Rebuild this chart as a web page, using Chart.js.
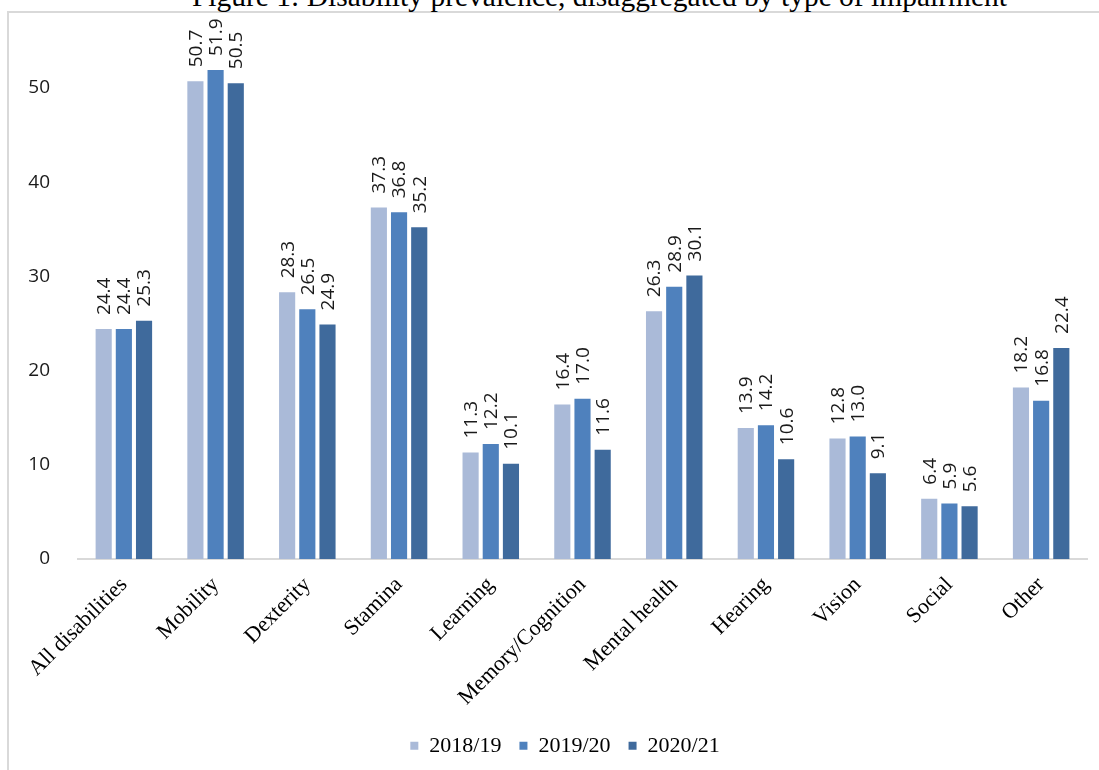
<!DOCTYPE html>
<html>
<head>
<meta charset="utf-8">
<script src="https://cdn.jsdelivr.net/npm/chart.js@4"></script>
<style>
    html, body { margin: 0; padding: 0; background: #fff; overflow: hidden; }
    body { width: 1099px; height: 770px; position: relative; }
    #frame {
        position: absolute; left: 7px; top: 11px; width: 1200px; height: 900px;
        border: 2px solid #d9d9d9; box-sizing: border-box;
    }
    #title {
        position: absolute; left: 50px; top: -18px; width: 1099px; text-align: center;
        font: 29.5px "Liberation Serif", serif; line-height: 29px; color: #000; white-space: nowrap;
    }
    #wrap { position: absolute; left: 0; top: 0; width: 1099px; height: 770px; }
</style>
</head>
<body>
<div id="frame"></div>
<div id="title">Figure 1: Disability prevalence, disaggregated by type of impairment</div>
<div id="wrap"><canvas id="chart"></canvas></div>
<script>
    // Chart data
    const categories = ['All disabilities', 'Mobility', 'Dexterity', 'Stamina', 'Learning',
        'Memory/Cognition', 'Mental health', 'Hearing', 'Vision', 'Social', 'Other'];
    const seriesNames = ['2018/19', '2019/20', '2020/21'];
    const values1819 = [24.4, 50.7, 28.3, 37.3, 11.3, 16.4, 26.3, 13.9, 12.8, 6.4, 18.2];
    const values1920 = [24.4, 51.9, 26.5, 36.8, 12.2, 17.0, 28.9, 14.2, 13.0, 5.9, 16.8];
    const values2021 = [25.3, 50.5, 24.9, 35.2, 10.1, 11.6, 30.1, 10.6, 9.1, 5.6, 22.4];
    const yTicks = [0, 10, 20, 30, 40, 50];

    const colors = ['#AABAD8', '#4F81BD', '#3F6A9C'];
    const AXIS_BOTTOM = 559;
    const PAD_BOTTOM = 4;
    const LEGEND_CX = 565;
    const LEGEND_CY = 748;

    // rotated value labels above each bar
    const barLabels = {
        id: 'barLabels',
        afterDatasetsDraw(chart) {
            const ctx = chart.ctx;
            ctx.save();
            ctx.font = '19px "Open Sans"';
            ctx.fillStyle = '#1a1a1a';
            ctx.textAlign = 'left';
            ctx.textBaseline = 'middle';
            chart.data.datasets.forEach((ds, i) => {
                chart.getDatasetMeta(i).data.forEach((bar, j) => {
                    ctx.save();
                    ctx.translate(bar.x + 1, bar.y - 14);
                    ctx.rotate(-Math.PI / 2);
                    ctx.fillText(ds.data[j].toFixed(1), 0, 0);
                    ctx.restore();
                });
            });
            ctx.restore();
        }
    };

    // move the legend to where the original has it
    const legendShift = {
        id: 'legendShift',
        afterLayout(chart) {
            const lg = chart.legend;
            if (!lg) return;
            const lab = lg.options.labels;
            const dx = LEGEND_CX - (lg.left + lg.right) / 2;
            const dy = LEGEND_CY - (lg.top + lab.padding + lab.font.size * 1.2 / 2);
            lg.left += dx;
            lg.right += dx;
            lg.top += dy;
            lg.bottom += dy;
        }
    };

    const seriesData = [values1819, values1920, values2021];

    new Chart(document.getElementById('chart'), {
        type: 'bar',
        data: {
            labels: categories,
            datasets: seriesNames.map((name, i) => ({
                label: name,
                data: seriesData[i],
                backgroundColor: colors[i],
                borderWidth: 0,
                categoryPercentage: 0.66,
                barPercentage: 0.8
            }))
        },
        options: {
            responsive: true,
            maintainAspectRatio: false,
            animation: false,
            layout: {
                padding: { top: 20, right: 12, left: 0, bottom: PAD_BOTTOM }
            },
            plugins: {
                legend: {
                    position: 'bottom',
                    labels: {
                        font: { family: "'Liberation Serif'", size: 22 },
                        color: '#000',
                        boxWidth: 8,
                        boxHeight: 8,
                        padding: 18
                    }
                },
                tooltip: { enabled: false }
            },
            scales: {
                x: {
                    grid: { display: false },
                    border: { color: '#d9d9d9', width: 2 },
                    afterFit(scale) {
                        const legendH = scale.chart.legend ? scale.chart.legend.height : 0;
                        scale.height = scale.chart.height - AXIS_BOTTOM - PAD_BOTTOM - legendH;
                    },
                    ticks: {
                        font: { family: "'Liberation Serif'", size: 22 },
                        color: '#000',
                        minRotation: 45,
                        maxRotation: 45,
                        padding: 5
                    }
                },
                y: {
                    min: 0,
                    max: 56,
                    grid: { display: false },
                    border: { display: false },
                    afterBuildTicks(scale) {
                        scale.ticks = yTicks.map(v => ({ value: v }));
                    },
                    afterFit(scale) {
                        scale.width = 78;
                    },
                    ticks: {
                        font: { family: "'Open Sans'", size: 19 },
                        color: '#1a1a1a',
                        padding: 20
                    }
                }
            }
        },
        plugins: [barLabels, legendShift]
    });
</script>
</body>
</html>
